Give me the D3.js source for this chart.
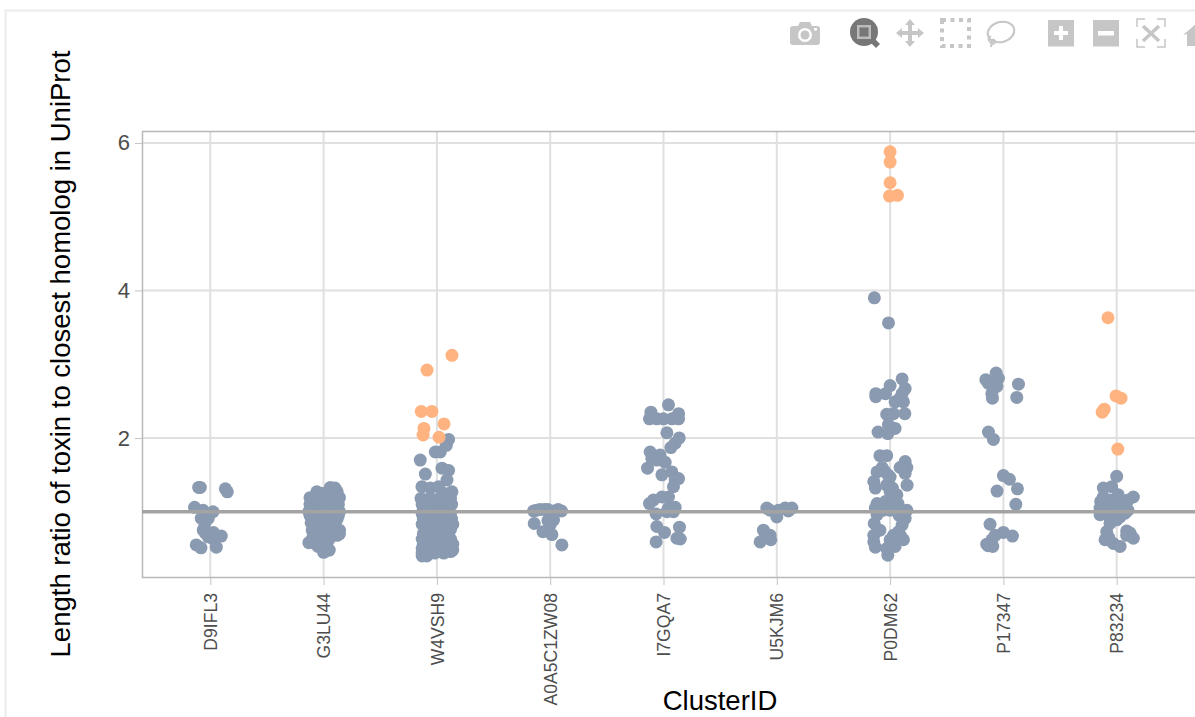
<!DOCTYPE html>
<html>
<head>
<meta charset="utf-8">
<script src="https://cdn.jsdelivr.net/npm/d3@7"></script>
<style>
  body { margin: 0; background: #fff; overflow: hidden; }
  text { font-family: "Liberation Sans", Arial, sans-serif; }
</style>
</head>
<body>
<script>
// cluster ids along the x axis
const clusters = ['D9IFL3', 'G3LU44', 'W4VSH9', 'A0A5C1ZW08', 'I7GQA7', 'U5KJM6', 'P0DM62', 'P17347', 'P83234'];
const yTicks = [2, 4, 6];

// each point is [jitter in category units, length ratio]
const d9ifl3 = [[-.103,1.33],[-.088,1.33],[.133,1.31],[.15,1.27],[-.139,1.06],[-.064,1.02],[.024,1],[-.08,.91],[-.018,.91],[-.044,.86],[-.062,.75],[.027,.72],[.097,.67],[-.018,.66],[.015,.64],[-.124,.55],[-.082,.51],[.053,.52],[-.044,.71],[-.053,.78]];
const g3lu44 = [[.06,1.33],[.1,1.32],[-.06,1.27],[.12,1.27],[-.02,1.25],[.05,1.25],[-.12,1.19],[.14,1.19],[.02,1.19],[-.07,1.15],[.09,1.15],[-.12,1.1],[.13,1.1],[0,1.1],[-.08,1.05],[.05,1.05],[.1,1.05],[-.13,1],[-.04,1],[.03,1],[.14,1],[-.12,.95],[-.06,.95],[.08,.95],[.13,.95],[-.1,.9],[.01,.9],[.12,.9],[-.11,.85],[-.03,.85],[.07,.85],[-.08,.8],[.02,.8],[.1,.8],[-.1,.75],[-.01,.75],[.06,.75],[.14,.75],[.13,.72],[.14,.7],[-.09,.68],[.03,.68],[.12,.68],[-.1,.63],[-.02,.63],[.05,.63],[-.13,.58],[-.08,.58],[.02,.58],[-.05,.53],[.03,.53],[.02,.47],[.05,.48],[0,.45]];
const w4vsh9 = [[.103,1.98],[.083,1.9],[-.014,1.81],[.03,1.81],[-.147,1.7],[.045,1.59],[.103,1.56],[-.102,1.51],[.089,1.43],[-.132,1.34],[-.058,1.32],[.015,1.34],[.133,1.27],[.059,1.25],[-.14,1.18],[-.06,1.18],[.02,1.18],[.12,1.18],[-.13,1.1],[-.08,1.1],[-.01,1.1],[.05,1.1],[.13,1.1],[-.12,1.03],[-.04,1.03],[.03,1.03],[.1,1.03],[-.13,.97],[-.06,.97],[.01,.97],[.07,.97],[.12,.97],[-.12,.9],[-.03,.9],[.04,.9],[.13,.9],[-.13,.83],[-.07,.83],[0,.83],[.08,.83],[.14,.83],[-.1,.76],[-.03,.76],[.05,.76],[.12,.76],[-.12,.7],[-.05,.7],[.02,.7],[.09,.7],[-.13,.63],[-.07,.63],[-.01,.63],[.06,.63],[.12,.63],[-.12,.56],[-.04,.56],[.03,.56],[.1,.56],[.14,.56],[-.13,.5],[-.07,.5],[.01,.5],[.07,.5],[.13,.5],[.14,.48],[-.13,.44],[-.08,.44],[-.02,.44],[.06,.44],[.12,.46],[-.13,.4],[-.09,.4]];
const a0a5c1zw08 = [[-.147,1.01],[-.12,1.02],[-.09,1.03],[-.05,1.03],[-.02,1.03],[.03,1.01],[.07,1.03],[.1,1.01],[.03,.89],[0,.82],[-.141,.84],[-.064,.73],[.015,.69],[.103,.55],[0,.95],[-.02,.88]];
const i7gqa7 = [[.044,2.45],[-.111,2.35],[.133,2.33],[-.124,2.26],[-.059,2.26],[0,2.26],[.074,2.26],[.133,2.26],[.03,2.07],[.139,2],[.103,1.93],[.065,1.87],[-.118,1.81],[-.03,1.77],[-.103,1.72],[-.059,1.7],[.015,1.67],[-.141,1.59],[.074,1.54],[-.014,1.5],[.133,1.45],[.103,1.43],[.088,1.34],[.044,1.2],[-.014,1.2],[-.088,1.16],[-.124,1.11],[.103,1.06],[.044,1.05],[.088,1],[.03,1],[-.065,.97],[-.059,.8],[.141,.79],[.009,.72],[-.065,.59],[.118,.64],[.148,.63]];
const u5kjm6 = [[-.088,1.05],[.073,1.05],[.133,1.05],[.015,1.02],[.102,1.01],[-.059,1.02],[0,.93],[-.118,.75],[-.059,.68],[-.053,.62],[-.147,.59],[-.103,.66]];
const p0dm62 = [[-.139,3.9],[-.014,3.56],[.106,2.8],[.133,2.67],[0,2.71],[-.126,2.6],[-.126,2.56],[-.04,2.6],[.106,2.6],[.044,2.49],[.118,2.49],[.088,2.54],[.13,2.33],[-.03,2.32],[.03,2.33],[.044,2.13],[-.015,2.18],[-.106,2.08],[-.02,2.06],[-.09,1.76],[-.03,1.76],[.133,1.68],[.148,1.6],[.088,1.6],[.133,1.52],[-.07,1.6],[-.115,1.54],[0,1.47],[-.144,1.41],[-.13,1.32],[.15,1.36],[-.03,1.36],[0,1.27],[.06,1.23],[-.115,1.11],[-.04,1.14],[.03,1.14],[.07,1.11],[.148,1.02],[-.13,1.05],[-.06,1.02],[0,1.02],[.08,1.02],[-.115,.96],[.133,.91],[.08,.95],[.106,.82],[-.14,.84],[-.09,.75],[.075,.73],[-.144,.68],[.03,.68],[.118,.62],[-.144,.59],[0,.55],[-.13,.52],[.044,.53],[-.02,.41],[-.03,.5],[0,.62],[.09,.68],[-.05,1.55],[-.02,1.5],[.02,1.32]];
const p17347 = [[-.064,2.88],[-.155,2.79],[-.044,2.81],[-.132,2.74],[-.058,2.7],[-.102,2.6],[-.097,2.54],[.133,2.73],[.118,2.55],[-.132,2.08],[-.088,1.98],[0,1.49],[.053,1.44],[.124,1.31],[-.056,1.28],[.11,1.1],[-.118,.83],[0,.72],[.08,.67],[-.073,.68],[-.102,.62],[-.147,.56],[-.094,.53],[-.135,.54]];
const p83234 = [[0,1.48],[-.118,1.32],[-.044,1.34],[.147,1.2],[.102,1.16],[-.118,1.2],[.014,1.23],[-.141,1.14],[-.059,1.16],[.058,1.14],[-.147,1.05],[-.07,1.08],[0,1.1],[.08,1.05],[.1,1.02],[-.147,.96],[-.088,.96],[0,.98],[.073,.98],[-.059,.84],[0,.89],[-.088,.73],[.088,.74],[.118,.71],[.147,.64],[-.103,.62],[-.03,.57],[.03,.53],[.088,.68],[-.05,.92],[.03,.93],[-.07,.65]];

// points above the cut-off, drawn orange: [cluster, jitter, ratio]
const outliers = [
  ['W4VSH9',.133,3.12],['W4VSH9',-.087,2.92],['W4VSH9',-.138,2.36],['W4VSH9',-.044,2.36],['W4VSH9',.063,2.19],['W4VSH9',-.114,2.13],['W4VSH9',-.122,2.04],['W4VSH9',.019,2.01],
  ['P0DM62',0,5.88],['P0DM62',0,5.74],['P0DM62',0,5.46],['P0DM62',-.005,5.28],['P0DM62',.065,5.29],
  ['P83234',-.077,3.63],['P83234',-.006,2.57],['P83234',.038,2.54],['P83234',-.11,2.39],['P83234',-.128,2.35],['P83234',.01,1.85]
];

const perCluster = [d9ifl3, g3lu44, w4vsh9, a0a5c1zw08, i7gqa7, u5kjm6, p0dm62, p17347, p83234];

const pageW = 1195, pageH = 717;
const margin = { top: 131, bottom: 140, left: 142 };
const blue = '#8a9ab0', orange = '#ffb380';

let svg = d3.select('body').append('svg')
  .attr('width', pageW)
  .attr('height', pageH);

// card outline behind the plot
svg.append('path')
  .attr('d', 'M5.5,717V10.5H1195')
  .attr('fill', 'none')
  .attr('stroke', '#ececec')
  .attr('stroke-width', 2);

let x = d3.scalePoint().domain(clusters).range([210.3, 1116.7]);
let step = x.step();
let y = d3.scaleLinear().domain([.115, 6.162]).range([pageH - margin.bottom, margin.top]);
let plotBottom = pageH - margin.bottom;

// grid
svg.append('g').selectAll('line').data(clusters).join('line')
  .attr('x1', d => x(d)).attr('x2', d => x(d))
  .attr('y1', margin.top).attr('y2', plotBottom)
  .attr('stroke', '#e0e0e0').attr('stroke-width', 2);
svg.append('g').selectAll('line').data(yTicks).join('line')
  .attr('x1', margin.left).attr('x2', pageW)
  .attr('y1', d => y(d)).attr('y2', d => y(d))
  .attr('stroke', '#e0e0e0').attr('stroke-width', 2);

// axes
let xAxis = d3.axisBottom(x).tickSize(8).tickPadding(8);
let gx = svg.append('g')
  .attr('transform', 'translate(0,' + plotBottom + ')')
  .call(xAxis);
gx.selectAll('text')
  .attr('transform', 'rotate(-90)')
  .attr('x', -16)
  .attr('y', 0)
  .attr('dy', '0.35em')
  .style('text-anchor', 'end')
  .style('font-size', '17.6px')
  .style('fill', '#4d4d4d');
gx.selectAll('line').attr('stroke', '#c4c4c4').attr('stroke-width', 1);
gx.select('.domain').remove();

let yAxis = d3.axisLeft(y).tickValues(yTicks).tickFormat(d3.format('d')).tickSize(7).tickPadding(5);
let gy = svg.append('g')
  .attr('transform', 'translate(' + margin.left + ',0)')
  .call(yAxis);
gy.selectAll('text').style('font-size', '22px').style('fill', '#4d4d4d');
gy.selectAll('line').attr('stroke', '#c4c4c4').attr('stroke-width', 1);
gy.select('.domain').remove();

// panel border
svg.append('path')
  .attr('d', 'M1195,' + (margin.top + .5) + 'H' + (margin.left + .5) + 'V' + (plotBottom + .5) + 'H1195')
  .attr('fill', 'none')
  .attr('stroke', '#b8b8b8')
  .attr('stroke-width', 1.5);

// points
clusters.forEach(function (c, i) {
  svg.append('g').selectAll('circle').data(perCluster[i]).join('circle')
    .attr('cx', d => x(c) + d[0] * step)
    .attr('cy', d => y(d[1]))
    .attr('r', 6.5)
    .attr('fill', blue);
});
svg.append('g').selectAll('circle').data(outliers).join('circle')
  .attr('cx', d => x(d[0]) + d[1] * step)
  .attr('cy', d => y(d[2]))
  .attr('r', 6.5)
  .attr('fill', orange);

// reference line at ratio 1
svg.append('line')
  .attr('x1', margin.left).attr('x2', pageW)
  .attr('y1', y(1)).attr('y2', y(1))
  .attr('stroke', '#a3a3a3').attr('stroke-width', 3.6);

// axis titles
svg.append('text')
  .attr('transform', 'translate(70,354) rotate(-90)')
  .attr('text-anchor', 'middle')
  .style('font-size', '27.5px')
  .style('fill', '#000')
  .text('Length ratio of toxin to closest homolog in UniProt');
svg.append('text')
  .attr('x', 720).attr('y', 710)
  .attr('text-anchor', 'middle')
  .style('font-size', '27.5px')
  .style('fill', '#000')
  .text('ClusterID');

// modebar icons
let bar = svg.append('g').attr('fill', '#c6c6c6');
bar.append('path').attr('d', 'M790,29q0-3 3-3h5l2-4h10l2,4h5q3,0 3,3v13q0,3 -3,3h-24q-3,0 -3-3z');
bar.append('circle').attr('cx', 805).attr('cy', 35).attr('r', 7).attr('fill', '#fff');
bar.append('circle').attr('cx', 805).attr('cy', 35).attr('r', 4.5);
bar.append('rect').attr('x', 814).attr('y', 28).attr('width', 3).attr('height', 2.5).attr('fill', '#fff');
// zoom, the active tool
bar.append('circle').attr('cx', 864).attr('cy', 32).attr('r', 14).attr('fill', '#777');
bar.append('rect').attr('x', 857).attr('y', 25).attr('width', 14).attr('height', 14).attr('fill', '#bbb');
bar.append('rect').attr('x', 859.5).attr('y', 27.5).attr('width', 9).attr('height', 9).attr('fill', '#777');
bar.append('path').attr('d', 'M870,42l4-4l6,6l-4,4z').attr('fill', '#777');
// pan
bar.append('path').attr('d', 'M910,19l5,6h-3v6h6v-3l6,5l-6,5v-3h-6v6h3l-5,6l-5-6h3v-6h-6v3l-6-5l6-5v3h6v-6h-3z');
// box select
bar.append('rect').attr('x', 942).attr('y', 20).attr('width', 27).attr('height', 26)
  .attr('fill', 'none').attr('stroke', '#c6c6c6').attr('stroke-width', 4).attr('stroke-dasharray', '4 4.5');
// lasso
bar.append('ellipse').attr('cx', 1001).attr('cy', 32).attr('rx', 13.5).attr('ry', 10)
  .attr('transform', 'rotate(-15 1001 32)').attr('fill', 'none').attr('stroke', '#c6c6c6').attr('stroke-width', 2);
bar.append('path').attr('d', 'M991,36q-5,3 0,7q4,2 4-2q-2-3 -3,0l-1,6')
  .attr('fill', 'none').attr('stroke', '#c6c6c6').attr('stroke-width', 2);
// zoom in, zoom out
bar.append('rect').attr('x', 1048).attr('y', 20).attr('width', 26).attr('height', 26.5);
bar.append('path').attr('d', 'M1059,26h4v5h5v4h-5v5h-4v-5h-5v-4h5z').attr('fill', '#fff');
bar.append('rect').attr('x', 1093).attr('y', 20).attr('width', 26).attr('height', 26.5);
bar.append('rect').attr('x', 1098).attr('y', 31).attr('width', 16).attr('height', 4.5).attr('fill', '#fff');
// autoscale
bar.append('path').attr('d', 'M1137,27v-8h8M1157,19h8v8M1165,39v8h-8M1145,47h-8v-8')
  .attr('fill', 'none').attr('stroke', '#c6c6c6').attr('stroke-width', 1.5);
bar.append('path').attr('d', 'M1143,26l16,15M1159,26l-16,15')
  .attr('fill', 'none').attr('stroke', '#c6c6c6').attr('stroke-width', 3.5);
// home, cut off by the window edge
bar.append('path').attr('d', 'M1183,35l13-11v6v16h-9v-12z');
</script>
</body>
</html>
